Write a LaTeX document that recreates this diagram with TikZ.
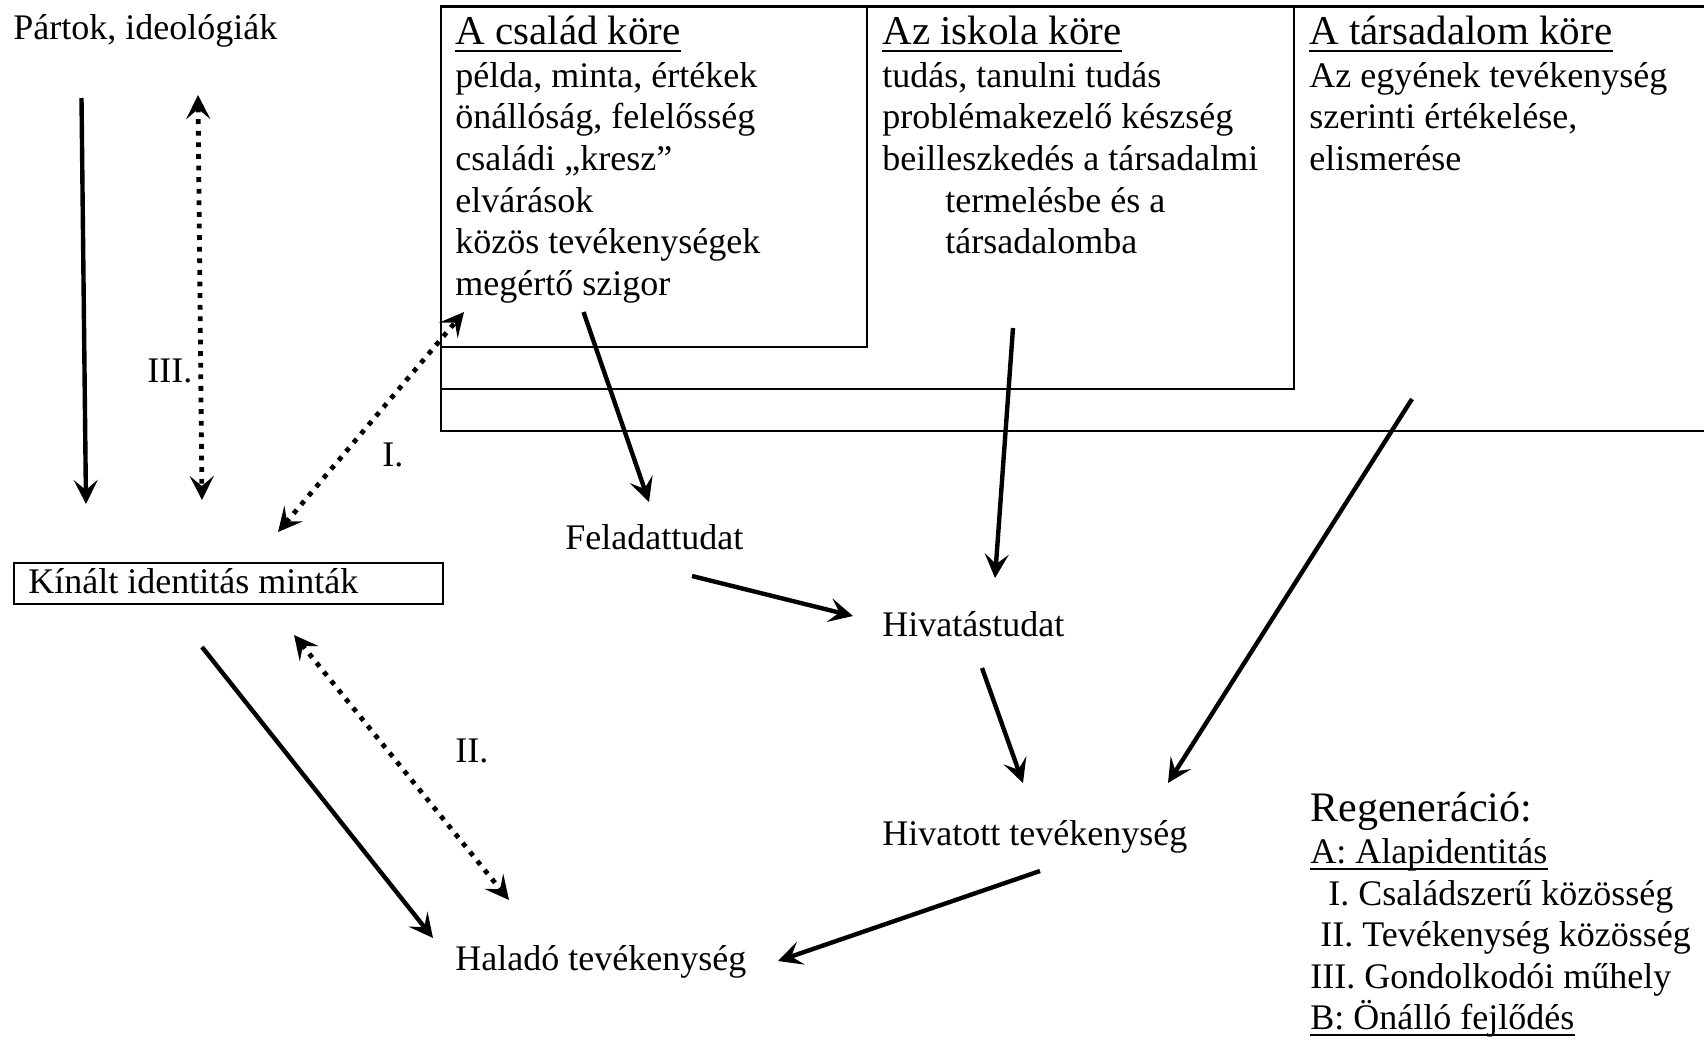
\documentclass[tikz,border=0pt]{standalone}
\usepackage{fontspec}
\setmainfont{Liberation Serif}
\usetikzlibrary{arrows.meta}
\tikzset{
  txt/.style={anchor=base west, inner sep=0pt, font=\fontsize{18}{20.85}\selectfont, align=left},
  hd/.style={anchor=base west, inner sep=0pt, font=\fontsize{20.5}{24}\selectfont},
  boxline/.style={line width=1.1pt},
  tip/.tip={Stealth[length=12pt,width=12pt,inset=5pt]},
  solidarrow/.style={line width=2.2pt, -tip},
  dotarrow/.style={line width=2.4pt, dash pattern=on 2.4pt off 3.4pt, tip-tip},
  uline/.style={line width=1pt}
}
\begin{document}
\begin{tikzpicture}[x=0.5pt,y=-0.5pt]
\useasboundingbox (0,0) rectangle (1704,1040);
% nested boxes
\draw[boxline] (1704,6.5) -- (441,6.5) -- (441,431) -- (1704,431);
\draw[boxline] (441,6.5) rectangle (1294,389);
\draw[boxline] (441,6.5) rectangle (867,347);
% texts in boxes (multi-line nodes: base anchor = last line baseline)
\node[hd] (csh) at (455,44) {A család köre};
\node[txt] (csb) at (455,295.5) {példa, minta, értékek\\önállóság, felelősség\\családi „kresz”\\elvárások\\közös tevékenységek\\megértő szigor};
\node[hd] (ish) at (882,44) {Az iskola köre};
\node[txt] (isb) at (882,253.8) {tudás, tanulni tudás\\problémakezelő készség\\beilleszkedés a társadalmi\\\hspace*{31.5pt}termelésbe és a\\\hspace*{31.5pt}társadalomba};
\node[hd] (tah) at (1309,44) {A társadalom köre};
\node[txt] (tab) at (1309,170.4) {Az egyének tevékenység\\szerinti értékelése,\\elismerése};
\foreach \n in {csh,ish,tah}{
  \draw[uline] ([yshift=-3.4pt]\n.base west) -- ([yshift=-3.4pt]\n.base east);
}
% left column
\node[txt] (partok) at (13,39) {Pártok, ideológiák};
\node[draw, boxline, anchor=north west, inner sep=0pt, minimum width=214.5pt, minimum height=20.5pt] (kinalt) at (13,562) {};
\node[txt] (kinalttxt) at (28,593) {Kínált identitás minták};
% middle nodes
\node[txt] (felad) at (565,549) {Feladattudat};
\node[txt] (hivtud) at (882,636) {Hivatástudat};
\node[txt] (hivtev) at (882,845) {Hivatott tevékenység};
\node[txt] (halado) at (455,970) {Haladó tevékenység};
% roman labels
\node[txt] (lIII) at (147,382) {III.};
\node[txt] (lI) at (382,466) {I.};
\node[txt] (lII) at (455,762) {II.};
% legend
\node[anchor=base west, inner sep=0pt, font=\fontsize{21}{24}\selectfont] (reg) at (1310,821) {Regeneráció:};
\node[txt] (la) at (1310,863) {A: Alapidentitás};
\node[txt] (l1) at (1328,905) {I. Családszerű közösség};
\node[txt] (l2) at (1320,946) {II. Tevékenység közösség};
\node[txt] (l3) at (1310,988) {III. Gondolkodói műhely};
\node[txt] (lb) at (1310,1029) {B: Önálló fejlődés};
\foreach \n in {la,lb}{
  \draw[uline] ([yshift=-3pt]\n.base west) -- ([yshift=-3pt]\n.base east);
}
% connector end points
\coordinate (a1s) at (81.5,98);   \coordinate (a1e) at (86,504);
\coordinate (d3s) at (198,95);    \coordinate (d3e) at (202,500);
\coordinate (d1s) at (278,532);   \coordinate (d1e) at (464,312);
\coordinate (a4s) at (583.5,312); \coordinate (a4e) at (649,502);
\coordinate (a5s) at (692,576);   \coordinate (a5e) at (853,616);
\coordinate (a6s) at (1013,328);  \coordinate (a6e) at (995,578);
\coordinate (a7s) at (982,668);   \coordinate (a7e) at (1023,783);
\coordinate (a8s) at (1412,399);  \coordinate (a8e) at (1168,783);
\coordinate (a9s) at (1040,871);  \coordinate (a9e) at (778,961);
\coordinate (a10s) at (202,647);  \coordinate (a10e) at (433,938);
\coordinate (d2s) at (294,635);   \coordinate (d2e) at (509,900);
% connectors
\draw[solidarrow] (a1s) -- (a1e);
\draw[dotarrow] (d3s) -- (d3e);
\draw[dotarrow] (d1s) -- (d1e);
\draw[solidarrow] (a4s) -- (a4e);
\draw[solidarrow] (a5s) -- (a5e);
\draw[solidarrow] (a6s) -- (a6e);
\draw[solidarrow] (a7s) -- (a7e);
\draw[solidarrow] (a8s) -- (a8e);
\draw[solidarrow] (a9s) -- (a9e);
\draw[solidarrow] (a10s) -- (a10e);
\draw[dotarrow] (d2s) -- (d2e);
\end{tikzpicture}
\end{document}
